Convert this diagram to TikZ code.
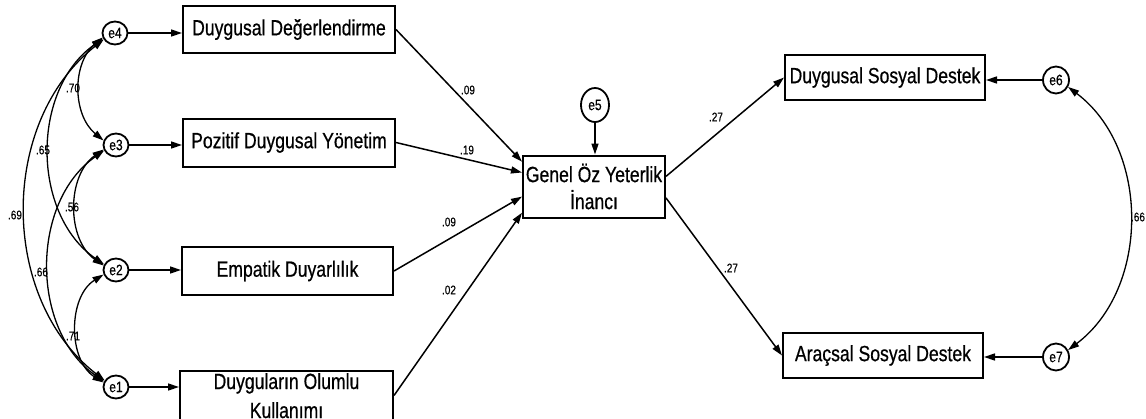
\documentclass[tikz,border=0pt]{standalone}
\usepackage{fontspec}
\setmainfont{Liberation Sans}
\newfontfamily\narrowsans[FakeStretch=0.8,FakeBold=0.6]{Liberation Sans}
\usetikzlibrary{arrows.meta,shapes.geometric}
\begin{document}
\begin{tikzpicture}[x=1pt,y=-1pt,
  tip/.tip={Triangle[length=11pt,width=7pt]},
  box/.style={draw,line width=2pt,minimum height=47pt,inner sep=0pt,
    font=\narrowsans\fontsize{22}{27}\selectfont,align=center},
  boxtext/.style={inner sep=0pt,font=\narrowsans\fontsize{22}{27}\selectfont},
  err/.style={draw,ellipse,line width=1.8pt,minimum width=25pt,minimum height=23pt,
    inner sep=0pt,font=\narrowsans\fontsize{15}{15}\selectfont},
  path/.style={line width=1.5pt,-tip},
  cov/.style={line width=1.3pt,tip-tip},
  coef/.style={inner sep=0pt,font=\narrowsans\fontsize{12.5}{12.5}\selectfont}]
\useasboundingbox (0,0) rectangle (1146,418);

% error terms of the predictors
\node[err] (e4) at (115,33) {e4};
\node[err] (e3) at (116,145) {e3};
\node[err] (e2) at (116,270) {e2};
\node[err] (e1) at (116,387) {e1};

% predictor boxes
\node[box,minimum width=212pt] (D) at (289,29.5) {Duygusal Değerlendirme};
\node[box,minimum width=212pt,minimum height=48pt] (P) at (289,142.5) {Pozitif Duygusal Yönetim};
\node[box,minimum width=211pt,minimum height=48pt] (E) at (287.5,271) {Empatik Duyarlılık};
\begin{scope}
  \clip (180,372) rectangle (393,420);
  \node[boxtext,anchor=base] (Ua) at (286.5,389) {Duyguların Olumlu};
  \node[boxtext,anchor=base] (Ub) at (286.5,418) {Kullanımı};
\end{scope}
\node[box,minimum width=213pt,minimum height=49pt] (U) at (286.5,395.5) {};

% mediator and outcomes
\node[box,minimum width=142pt,minimum height=62pt] (G) at (594,186.5) {Genel Öz Yeterlik\\İnancı};
\node[err,minimum width=28pt,minimum height=34pt] (e5) at (595,105) {e5};
\node[box,minimum width=200pt,minimum height=45pt] (DSD) at (885,77.5) {Duygusal Sosyal Destek};
\node[box,minimum width=200pt,minimum height=45pt] (ASD) at (883,355.5) {Araçsal Sosyal Destek};
\node[err,minimum width=26pt,minimum height=27pt] (e6) at (1056,80) {e6};
\node[err,minimum width=26pt,minimum height=27pt] (e7) at (1056,357) {e7};

% error arrows
\draw[path] (e4) -- (D.west |- e4);
\draw[path] (e3) -- (P.west |- e3);
\draw[path] (e2) -- (E.west |- e2);
\draw[path] (e1) -- (U.west |- e1);
\draw[path] (e5) -- (G.north -| e5);
\draw[path] (e6) -- (DSD.east |- e6);
\draw[path] (e7) -- (ASD.east |- e7);

% structural paths
\draw[path] (D.east) -- (G.161);
\draw[path] (P.east) -- (G.169);
\draw[path] (E.east) -- (G.188);
\draw[path] (U.east) -- (G.200);
\draw[path] (G.8) -- (DSD.west);
\draw[path] (G.351) -- (ASD.west);

% covariances
\draw[cov] (e4.200) to[bend right=50] (e3.160);
\draw[cov] (e3.200) to[bend right=55] (e2.160);
\draw[cov] (e2.200) to[bend right=58] (e1.160);
\draw[cov] (e4.205) to[bend right=55] (e2.155);
\draw[cov] (e3.205) to[bend right=55] (e1.155);
\draw[cov] (e4.210) to[bend right=52] (e1.150);
\draw[cov] (e6.330) to[bend left=53] (e7.30);

% coefficients
\node[coef] (c70) at (73,88) {.70};
\node[coef] (c65) at (43,150) {.65};
\node[coef] (c56) at (72,207) {.56};
\node[coef] (c69) at (15,215) {.69};
\node[coef] (c66) at (41,272) {.66};
\node[coef] (c71) at (73,336) {.71};
\node[coef] (b1) at (468,90) {.09};
\node[coef] (b2) at (467,150) {.19};
\node[coef] (b3) at (449,222) {.09};
\node[coef] (b4) at (449,290) {.02};
\node[coef] (b5) at (716,117) {.27};
\node[coef] (b6) at (731,268) {.27};
\node[coef] (c67) at (1138,217) {.66};
\end{tikzpicture}
\end{document}
